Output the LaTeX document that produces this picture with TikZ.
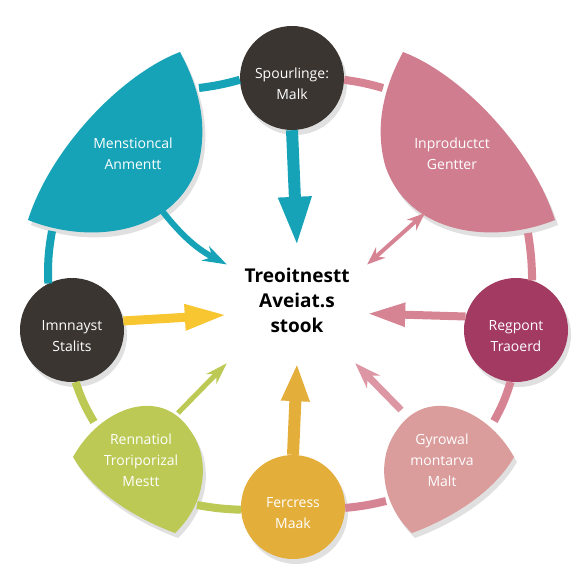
\documentclass[tikz,border=0pt]{standalone}
\usepackage{fontspec}
\setmainfont{Open Sans}
\usepackage{tikz}
\usetikzlibrary{arrows.meta,shadows}

\definecolor{tealc}{RGB}{23,163,183}
\definecolor{rosec}{RGB}{208,126,143}
\definecolor{darkc}{RGB}{58,53,49}
\definecolor{plumc}{RGB}{163,58,98}
\definecolor{blushc}{RGB}{219,156,156}
\definecolor{goldc}{RGB}{228,174,58}
\definecolor{sunc}{RGB}{247,198,48}
\definecolor{limec}{RGB}{188,201,84}
\definecolor{ringrose}{RGB}{214,132,148}

\begin{document}
\begin{tikzpicture}[x=1pt,y=-1pt,
        shade/.style={drop shadow={shadow xshift=3pt,shadow yshift=-5pt,opacity=0.12,fill=black}},
        disc/.style={circle,minimum size=104pt,inner sep=0pt,shade},
        disctext/.style={align=center,text=white,font=\fontsize{14}{21}\selectfont,yshift=-6pt},
        leaftext/.style={align=center,text=white,font=\fontsize{14}{21}\selectfont},
        ring/.style={line width=8pt}]
        \useasboundingbox (0,0) rectangle (588,588);

        % 四片叶子（直接画形状）
        \fill[tealc,shade] (180,52) .. controls (120,75) and (50,150) .. (28,220)
            .. controls (90,245) and (175,235) .. (198,165)
            .. controls (210,120) and (195,80) .. (180,52);
        \fill[rosec,shade] (403,52) .. controls (463,75) and (533,150) .. (555,220)
            .. controls (493,245) and (408,235) .. (385,165)
            .. controls (373,120) and (388,80) .. (403,52);
        \fill[limec,shade] (73,457) .. controls (100,408) and (160,385) .. (190,430)
            .. controls (212,460) and (205,505) .. (175,533)
            .. controls (140,520) and (95,495) .. (73,457);
        \fill[blushc,shade] (514,457) .. controls (487,408) and (427,385) .. (397,430)
            .. controls (375,460) and (382,505) .. (412,533)
            .. controls (447,520) and (492,495) .. (514,457);

        % 叶子上的文字与连接点
        \node[leaftext] (mens) at (133,154) {Menstioncal\\Anmentt};
        \node[leaftext] (inpro) at (452,154) {Inproductct\\Gentter};
        \node[leaftext] (renn) at (141,460) {Rennatiol\\Troriporizal\\Mestt};
        \node[leaftext] (gyro) at (442,460) {Gyrowal\\montarva\\Malt};
        \coordinate (mtA) at (199,88);   \coordinate (mtB) at (52,231);   \coordinate (mtC) at (163,212);
        \coordinate (ipA) at (383,88);   \coordinate (ipB) at (528,233);  \coordinate (ipC) at (425,213);
        \coordinate (gyA) at (494,421);  \coordinate (gyB) at (386,501);  \coordinate (gyC) at (401,410);
        \coordinate (rnA) at (197,505);  \coordinate (rnB) at (94,422);   \coordinate (rnC) at (178,413);

        % 四个圆
        \node[disc,fill=darkc,label={[disctext]center:{Spourlinge:\\Malk}}] (spour) at (292,78) {};
        \node[disc,fill=darkc,label={[disctext]center:{Imnnayst\\Stalits}}] (imn) at (72,330) {};
        \node[disc,fill=plumc,label={[disctext]center:{Regpont\\Traoerd}}] (regp) at (516,330) {};
        \node[disc,fill=goldc,label={[disctext]center:{Fercress\\Maak}}] (ferc) at (293,507) {};

        % 中心文字
        \node[minimum width=140pt,minimum height=116pt,
            label={[align=center,font=\bfseries\fontsize{19}{25}\selectfont,yshift=5pt]center:{Treoitnestt\\Aveiat.s\\stook}}]
            (treo) at (297,305) {};

        % 外圈连线
        \draw[ring,tealc] (spour.182) to[bend left=4] (mtA);
        \draw[ring,tealc] (mtB) to[bend right=6] (imn.117);
        \draw[ring,ringrose] (spour.-2) to[bend left=4] (ipA);
        \draw[ring,ringrose] (ipB) to[bend left=4] (regp.72);
        \draw[ring,ringrose] (regp.264) to[bend left=6] (gyA);
        \draw[ring,ringrose] (gyB) to[bend left=4] (ferc.-1);
        \draw[ring,limec] (ferc.183) to[bend left=4] (rnA);
        \draw[ring,limec] (rnB) to[bend left=6] (imn.274);

        % 指向中心的箭头
        \draw[-{Triangle[width=30pt,length=50pt]},line width=12pt,tealc] (spour.south) -- (treo.north);
        \draw[-{Stealth[width=16pt,length=24pt]},line width=6pt,tealc] (mtC) to[bend right=12] (treo.150);
        \draw[{Stealth[width=14pt,length=18pt]}-{Stealth[width=14pt,length=18pt]},line width=4pt,ringrose] (treo.30) -- (ipC);
        \draw[-{Triangle[width=22pt,length=38pt]},line width=8pt,ringrose] (regp.165) -- (treo.-7);
        \draw[-{Stealth[width=18pt,length=26pt]},line width=7pt,ringrose!85] (gyC) -- (treo.-45);
        \draw[-{Triangle[width=26pt,length=38pt]},line width=12pt,goldc] (ferc.north) -- (treo.south);
        \draw[-{Stealth[width=14pt,length=22pt]},line width=5pt,limec] (rnC) -- (treo.south west);
        \draw[-{Triangle[width=24pt,length=42pt]},line width=9pt,sunc] (imn.10) -- (treo.188);
\end{tikzpicture}
\end{document}
